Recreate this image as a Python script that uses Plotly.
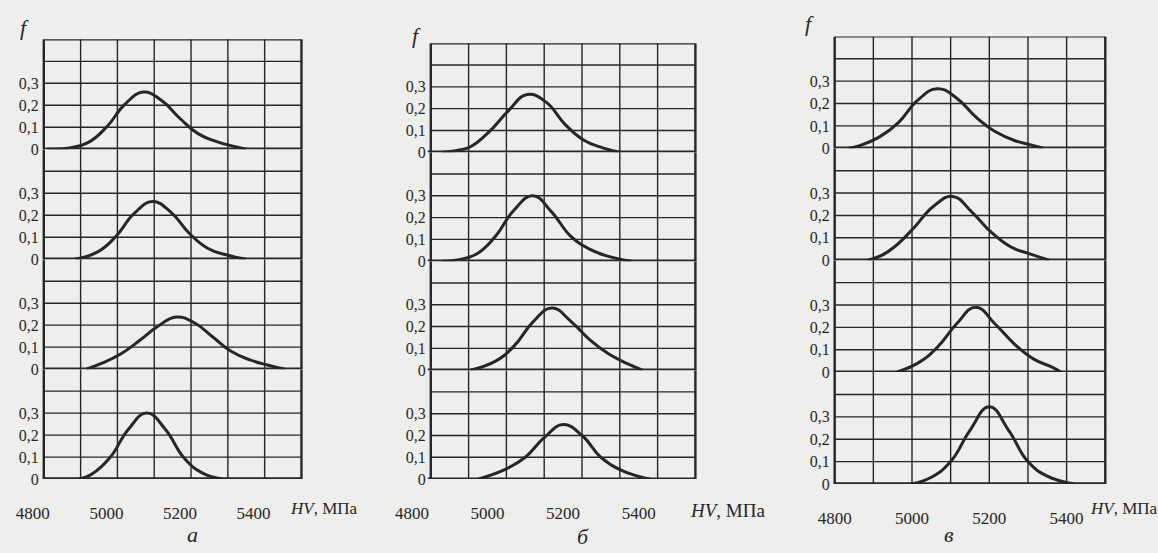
import plotly.graph_objects as go

# ---------------- data ----------------
# panel "а"
hv_a1 = [4840, 4900, 4950, 5000, 5050, 5100, 5150, 5200, 5250, 5300, 5350, 5380]
f_a1 = [0, 0.006, 0.03, 0.1, 0.204, 0.26, 0.222, 0.14, 0.07, 0.035, 0.012, 0]
hv_a2 = [4915, 4975, 5025, 5075, 5125, 5175, 5225, 5275, 5325, 5380]
f_a2 = [0, 0.032, 0.102, 0.207, 0.262, 0.214, 0.118, 0.05, 0.02, 0]
hv_a3 = [4945, 4990, 5040, 5090, 5140, 5190, 5240, 5290, 5340, 5390, 5440, 5485]
f_a3 = [0, 0.028, 0.07, 0.13, 0.195, 0.237, 0.21, 0.145, 0.08, 0.042, 0.018, 0]
hv_a4 = [4925, 4960, 5010, 5060, 5110, 5160, 5210, 5260, 5315]
f_a4 = [0, 0.022, 0.098, 0.227, 0.3, 0.227, 0.098, 0.028, 0]
# panel "б"
hv_b1 = [4880, 4920, 4955, 5005, 5055, 5105, 5155, 5205, 5255, 5305, 5350]
f_b1 = [0, 0.008, 0.025, 0.095, 0.19, 0.265, 0.23, 0.128, 0.055, 0.02, 0]
hv_b2 = [4880, 4920, 4970, 5020, 5070, 5120, 5170, 5220, 5270, 5320, 5380]
f_b2 = [0, 0.006, 0.032, 0.112, 0.234, 0.3, 0.225, 0.115, 0.055, 0.022, 0]
hv_b3 = [4955, 5020, 5070, 5120, 5170, 5220, 5270, 5320, 5370, 5410]
f_b3 = [0, 0.04, 0.11, 0.22, 0.285, 0.225, 0.14, 0.075, 0.03, 0]
hv_b4 = [4975, 5050, 5100, 5150, 5200, 5250, 5300, 5350, 5400, 5430]
f_b4 = [0, 0.047, 0.1, 0.19, 0.25, 0.2, 0.1, 0.043, 0.012, 0]
# panel "в"
hv_c1 = [4835, 4865, 4915, 4965, 5015, 5065, 5115, 5165, 5215, 5265, 5315, 5340]
f_c1 = [0, 0.012, 0.05, 0.115, 0.215, 0.266, 0.225, 0.14, 0.075, 0.035, 0.012, 0]
hv_c2 = [4885, 4920, 4955, 5005, 5055, 5105, 5155, 5205, 5255, 5305, 5355]
f_c2 = [0, 0.02, 0.06, 0.145, 0.24, 0.285, 0.215, 0.125, 0.06, 0.028, 0]
hv_c3 = [4960, 5015, 5065, 5115, 5165, 5215, 5265, 5315, 5365, 5385]
f_c3 = [0, 0.04, 0.11, 0.215, 0.29, 0.215, 0.125, 0.058, 0.02, 0]
hv_c4 = [5000, 5050, 5100, 5150, 5200, 5250, 5300, 5350, 5420]
f_c4 = [0, 0.03, 0.1, 0.24, 0.345, 0.24, 0.1, 0.035, 0]

x_tick_values = [4800, 5000, 5200, 5400]
x_tick_labels = ["4800", "5000", "5200", "5400"]
y_tick_values = [0, 0.1, 0.2, 0.3]
y_tick_labels = ["0", "0,1", "0,2", "0,3"]
panel_letters = ["а", "б", "в"]
axis_title = "<i>HV</i>, МПа"
y_title = "<i>f</i>"

curves = [
    [(hv_a1, f_a1), (hv_a2, f_a2), (hv_a3, f_a3), (hv_a4, f_a4)],
    [(hv_b1, f_b1), (hv_b2, f_b2), (hv_b3, f_b3), (hv_b4, f_b4)],
    [(hv_c1, f_c1), (hv_c2, f_c2), (hv_c3, f_c3), (hv_c4, f_c4)],
]

# ---------------- layout constants ----------------
W, H = 1158, 553
BG = "#eeeeec"
INK = "#262626"
FONT = "Liberation Serif, Times New Roman, serif"
# box pixel geometry per panel: left, right, top, bottom
BOX = [(38, 297, 40, 487), (427, 693, 44, 487), (833, 1105, 37, 492)]
GRID_START = [4830, 4850, 4800]   # MPa at left edge of grid box
GRID_COLS, COL_STEP = 7, 100
ROWS_F, ROW_STEP = 5, 0.1
X_RANGE = (4770, 5570)
F_TOP = ROWS_F * ROW_STEP
# label placement (px, centers)
F_POS = [(19, 28), (413, 36), (808, 24)]
HV_POS = [(320, 517), (725, 519), (1124, 517)]
LETTER_POS = [(187, 543), (580, 545), (948, 543)]

fig = go.Figure()
shapes = []
annotations = []

for p in range(3):
    left, right, top, bottom = BOX[p]
    x0 = GRID_START[p]
    ppu = (right - left) / (GRID_COLS * COL_STEP)
    dom_l = (left + (X_RANGE[0] - x0) * ppu) / W
    dom_r = (left + (X_RANGE[1] - x0) * ppu) / W
    sub_h = (bottom - top) / 4
    for r in range(4):
        k = p * 4 + r + 1
        xa = "x" if k == 1 else f"x{k}"
        ya = "y" if k == 1 else f"y{k}"
        y_top_px = top + r * sub_h
        y_bot_px = top + (r + 1) * sub_h
        bottom_row = (r == 3)
        fig.update_layout(**{
            ("xaxis" if k == 1 else f"xaxis{k}"): dict(
                domain=[dom_l, dom_r], range=list(X_RANGE), anchor=ya,
                showgrid=False, zeroline=False, showline=False,
                tickvals=x_tick_values, ticktext=x_tick_labels,
                showticklabels=bottom_row, ticks="",
                ticklabelstandoff=22,
                tickfont=dict(family=FONT, size=17, color=INK),
                fixedrange=True,
            ),
            ("yaxis" if k == 1 else f"yaxis{k}"): dict(
                domain=[1 - y_bot_px / H, 1 - y_top_px / H],
                range=[0, F_TOP], anchor="free", position=left / W,
                showgrid=False, zeroline=False, showline=False,
                tickvals=y_tick_values, ticktext=y_tick_labels,
                ticks="", ticklabelstandoff=5,
                tickfont=dict(family=FONT, size=16, color=INK),
                fixedrange=True,
            ),
        })
        # grid: vertical lines
        for i in range(GRID_COLS + 1):
            xv = x0 + i * COL_STEP
            edge = i in (0, GRID_COLS)
            shapes.append(dict(type="line", xref=xa, yref=ya, x0=xv, x1=xv,
                               y0=0, y1=F_TOP, layer="below",
                               line=dict(color=INK, width=2.4 if edge else 1.4)))
        # grid: horizontal lines
        for j in range(1, ROWS_F):
            yv = j * ROW_STEP
            shapes.append(dict(type="line", xref=xa, yref=ya, x0=x0,
                               x1=x0 + GRID_COLS * COL_STEP, y0=yv, y1=yv,
                               layer="below", line=dict(color=INK, width=1.4)))
        # thick baseline
        shapes.append(dict(type="line", xref=xa, yref=ya, x0=x0 - (8 if p == 1 else 0),
                           x1=x0 + GRID_COLS * COL_STEP, y0=0, y1=0,
                           layer="below", line=dict(color=INK, width=3.4)))
        if r == 0:
            shapes.append(dict(type="line", xref=xa, yref=ya, x0=x0,
                               x1=x0 + GRID_COLS * COL_STEP, y0=F_TOP, y1=F_TOP,
                               layer="below", line=dict(color=INK, width=2.4)))
        hv, f = curves[p][r]
        fig.add_trace(go.Scatter(
            x=hv, y=f, mode="lines", xaxis=xa, yaxis=ya,
            line=dict(color=INK, width=3, shape="spline", smoothing=1.3),
            hoverinfo="skip", showlegend=False, cliponaxis=False,
        ))

    fx, fy = F_POS[p]
    annotations.append(dict(text=y_title, xref="paper", yref="paper",
                            x=fx / W, y=1 - fy / H, xanchor="center", yanchor="middle",
                            showarrow=False, font=dict(family=FONT, size=22, color=INK)))
    hx, hy = HV_POS[p]
    annotations.append(dict(text=axis_title, xref="paper", yref="paper",
                            x=hx / W, y=1 - hy / H, xanchor="center", yanchor="middle",
                            showarrow=False,
                            font=dict(family=FONT, size=17 if p != 1 else 19, color=INK)))
    lx, ly = LETTER_POS[p]
    annotations.append(dict(text=f"<i>{panel_letters[p]}</i>", xref="paper", yref="paper",
                            x=lx / W, y=1 - ly / H, xanchor="center", yanchor="middle",
                            showarrow=False, font=dict(family=FONT, size=22, color=INK)))

fig.update_layout(
    width=W, height=H, autosize=False,
    margin=dict(l=0, r=0, t=0, b=0),
    paper_bgcolor=BG, plot_bgcolor="rgba(0,0,0,0)",
    shapes=shapes, annotations=annotations, showlegend=False,
)

fig.write_html(
    "out.html",
    config={"displayModeBar": False, "staticPlot": True},
    post_script="document.body.style.margin='0';document.body.style.overflow='hidden';",
)
